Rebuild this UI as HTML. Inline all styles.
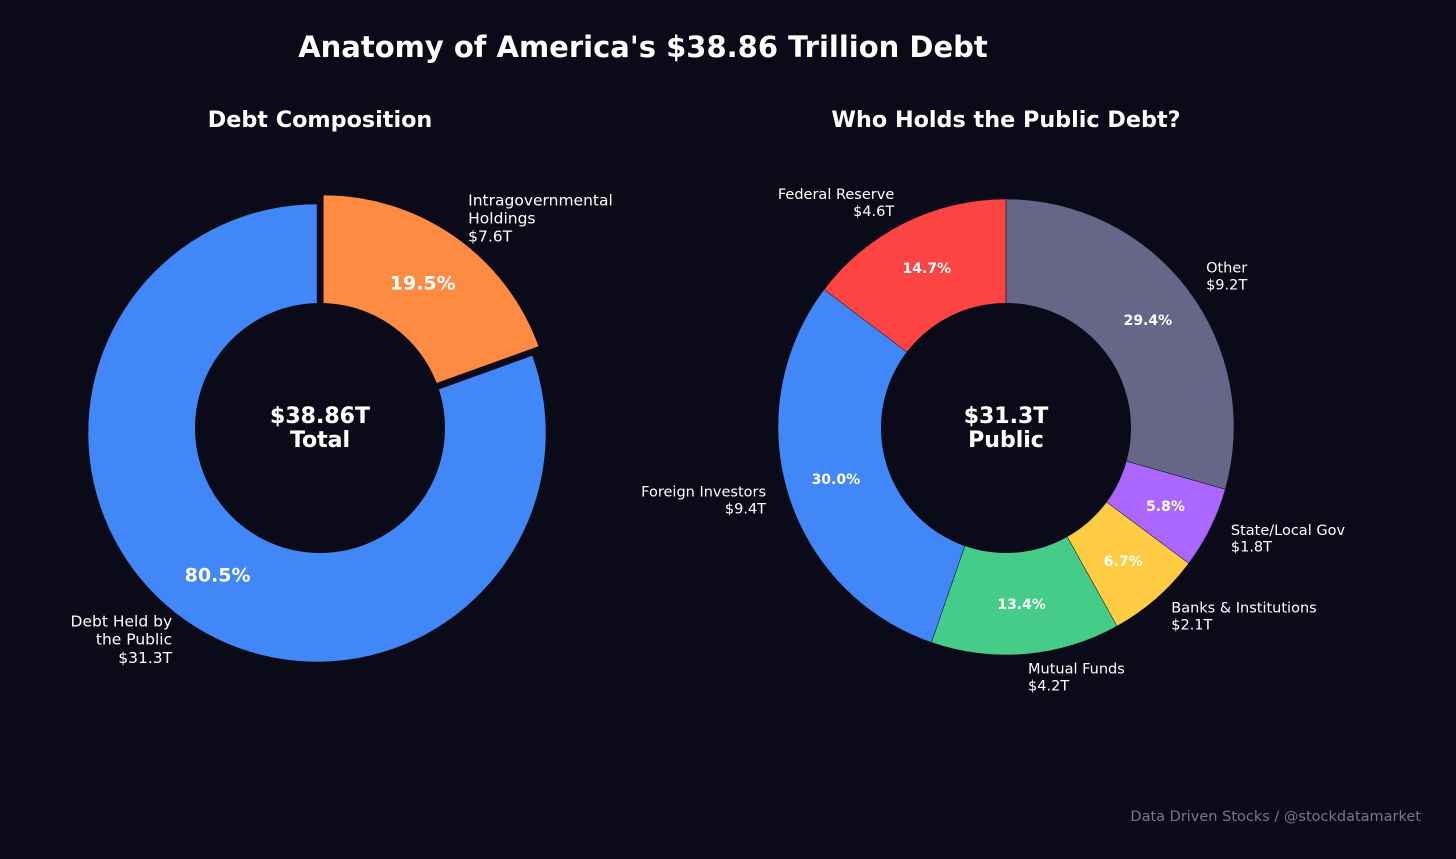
<!DOCTYPE html>
<html><head><meta charset="utf-8">
<style>
html,body{margin:0;padding:0;background:#0a0a18;}
svg{display:block;font-family:"DejaVu Sans","Liberation Sans",sans-serif;}
</style></head>
<body>
<svg id="c" width="1456" height="859" viewBox="0 0 1456 859">
<rect width="1456" height="859" fill="#0a0a18"/>
<text x="643" y="57" text-anchor="middle" fill="#fff" font-size="29" font-weight="bold">Anatomy of America's $38.86 Trillion Debt</text>
<text x="320" y="127" text-anchor="middle" fill="#fff" font-size="22.3" font-weight="bold">Debt Composition</text>
<text x="1006" y="127" text-anchor="middle" fill="#fff" font-size="22.3" font-weight="bold">Who Holds the Public Debt?</text>
<text x="1421" y="821" text-anchor="end" fill="#77778a" font-size="14.5">Data Driven Stocks / @stockdatamarket</text>
</svg>
<script>
const leftLabels=["Debt Held by|the Public|$31.3T","Intragovernmental|Holdings|$7.6T"];
const leftValues=[80.5,19.5];
const leftColors=["#4287f7","#ff8b42"];
const leftExplode=[0,11];
const rightLabels=["Federal Reserve|$4.6T","Foreign Investors|$9.4T","Mutual Funds|$4.2T","Banks & Institutions|$2.1T","State/Local Gov|$1.8T","Other|$9.2T"];
const rightValues=[14.7,30.0,13.4,6.7,5.8,29.4];
const rightColors=["#ff4444","#4287f7","#45cc88","#ffcc44","#aa66ff","#666688"];
const rightExplode=[0,0,0,0,0,0];
const NS="http://www.w3.org/2000/svg";
const svg=document.getElementById('c');
function mk(t,a){const e=document.createElementNS(NS,t);for(const k in a)e.setAttribute(k,a[k]);svg.appendChild(e);return e;}
function pt(cx,cy,r,deg){const a=deg*Math.PI/180;return [cx+r*Math.cos(a),cy-r*Math.sin(a)];}
function donut(cx,cy,R,hx,hy,ri,vals,cols,labs,expl,pfs,pr,lfs,name,center){
  const tot=vals.reduce((a,b)=>a+b,0);let start=90;
  vals.forEach((v,i)=>{
    const sweep=v/tot*360,end=start+sweep,mid=start+sweep/2;
    const [ox,oy]=pt(0,0,expl[i],mid);const x=cx+ox,y=cy+oy;
    const p1=pt(x,y,R,start),p2=pt(x,y,R,end);
    const lg=sweep>180?1:0;
    const p=mk('path',{d:`M${x},${y}L${p1}A${R},${R} 0 ${lg} 0 ${p2}Z`,fill:cols[i],stroke:'#0a0a18','stroke-width':0.5});
    
    
    start=end;
  });
  const h=mk('circle',{cx:hx,cy:hy,r:ri,fill:'#0a0a18'});
  
  
  start=90;
  vals.forEach((v,i)=>{
    const sweep=v/tot*360,end=start+sweep,mid=start+sweep/2;
    const [ox,oy]=pt(0,0,expl[i],mid);const x=cx+ox,y=cy+oy;
    const [px,py]=pt(x,y,R*pr,mid);
    const t=mk('text',{x:px,y:py+pfs*0.36,'text-anchor':'middle',fill:'#fff','font-size':pfs,'font-weight':'bold'});
    t.textContent=v.toFixed(1)+'%';
    
    
    const [lx,ly]=pt(x,y,R*1.1,mid);const c=Math.cos(mid*Math.PI/180);
    const lines=labs[i].split('|');const lh=lfs*1.17;
    const lt=mk('text',{x:lx,'text-anchor':c<0?'end':'start',fill:'#fff','font-size':lfs});
    
    
    lines.forEach((s,j)=>{const ts=document.createElementNS(NS,'tspan');ts.setAttribute('x',lx);ts.setAttribute('y',ly-(lines.length-1)*lh/2+j*lh+lfs*0.36);ts.textContent=s;lt.appendChild(ts);});
    start=end;
  });
  const cl=center.split('|');
  cl.forEach((s,j)=>{const t=mk('text',{x:hx,y:hy-5+j*24,'text-anchor':'middle',fill:'#fff','font-size':22,'font-weight':'bold',stroke:'#333','stroke-width':0.6,'paint-order':'stroke'});t.textContent=s;
    
    });
}
donut(317,433,229,320,428,125,leftValues,leftColors,leftLabels,leftExplode,19,0.755,15.5,'left-donut','$38.86T|Total');
donut(1006,427,228,1006,428,125,rightValues,rightColors,rightLabels,rightExplode,14,0.78,14.5,'right-donut','$31.3T|Public');
</script>
</body></html>
